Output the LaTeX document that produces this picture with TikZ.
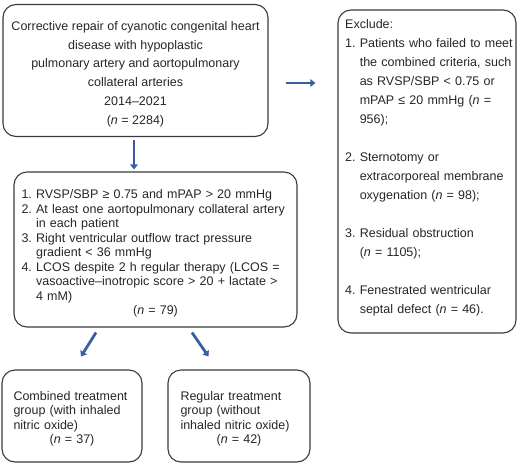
\documentclass[tikz,border=0pt]{standalone}
\usepackage{fontspec}
\setmainfont{Liberation Sans}
\usetikzlibrary{arrows.meta,calc}
\definecolor{boxline}{HTML}{3A3A3A}
\definecolor{txt}{HTML}{262626}
\definecolor{arrblue}{HTML}{3A5E9E}
\tikzset{
  flowbox/.style={draw=boxline, line width=1.1pt, rounded corners=13pt, inner sep=0pt},
  arr/.style={draw=arrblue, line width=2.8pt, -{Triangle[length=5pt,width=7.5pt]}},
  bodytext/.style={text=txt, inner sep=0pt}
}
\newcommand{\hind}{\phantom{1. }}
\frenchspacing
\begin{document}
\begin{tikzpicture}[x=1pt,y=-1pt]
\useasboundingbox (0,0) rectangle (518,463);

% boxes
\node[flowbox, minimum width=265pt, minimum height=132pt] (box1) at (135.5,70.5) {};
\node[flowbox, minimum width=283pt, minimum height=155pt] (box2) at (155.5,249.5) {};
\node[flowbox, minimum width=178pt, minimum height=323pt] (excl) at (427,171.5) {};
\node[flowbox, minimum width=140pt, minimum height=92pt] (comb) at (72,416) {};
\node[flowbox, minimum width=142pt, minimum height=92pt] (reg) at (239,416) {};

% texts
\node[bodytext, align=center, font=\frenchspacing\fontsize{12.5}{18.8}\selectfont]
  (box1txt) at ($(box1.center)+(0,3.5)$)
  {Corrective repair of cyanotic congenital heart\\
   disease with hypoplastic\\
   pulmonary artery and aortopulmonary\\
   collateral arteries\\
   2014–2021\\
   (\textit{n} = 2284)};

\node[bodytext, text width=268pt, align=left, font=\frenchspacing\fontsize{12.5}{14.5}\selectfont]
  (box2txt) at ($(box2.center)+(0,4)$)
  {1. RVSP/SBP ≥ 0.75 and mPAP > 20 mmHg\\
   2. At least one aortopulmonary collateral artery\\
   \hind in each patient\\
   3. Right ventricular outflow tract pressure\\
   \hind gradient < 36 mmHg\\
   4. LCOS despite 2 h regular therapy (LCOS =\\
   \hind vasoactive–inotropic score > 20 + lactate >\\
   \hind 4 mM)\\
   \makebox[\linewidth][c]{(\textit{n} = 79)}};

\node[bodytext, anchor=north west, text width=175pt, align=left,
      font=\frenchspacing\fontsize{12.5}{19}\selectfont] (excltxt) at (345,19.5)
  {Exclude:\\
   1. Patients who failed to meet\\
   \hind the combined criteria, such\\
   \hind as RVSP/SBP < 0.75 or\\
   \hind mPAP ≤ 20 mmHg (\textit{n} =\\
   \hind 956);\\[19pt]
   2. Sternotomy or\\
   \hind extracorporeal membrane\\
   \hind oxygenation (\textit{n} = 98);\\[19pt]
   3. Residual obstruction\\
   \hind (\textit{n} = 1105);\\[19pt]
   4. Fenestrated wentricular\\
   \hind septal defect (\textit{n} = 46).};

\node[bodytext, text width=117pt, align=left, font=\frenchspacing\fontsize{12.5}{14.5}\selectfont]
  (combtxt) at ($(comb.center)+(0,3)$)
  {\makebox[\linewidth][s]{Combined treatment}\\
   \makebox[\linewidth][s]{group (with inhaled}\\
   nitric oxide)\\
   \makebox[\linewidth][c]{(\textit{n} = 37)}};

\node[bodytext, text width=117pt, align=left, font=\frenchspacing\fontsize{12.5}{14.5}\selectfont]
  (regtxt) at ($(reg.center)+(0,3)$)
  {\makebox[\linewidth][s]{Regular treatment}\\
   group (without\\
   inhaled nitric oxide)\\
   \makebox[\linewidth][c]{(\textit{n} = 42)}};

% connectors
\draw[arr] ($(box1.south)+(-1.5,3)$) -- ($(box1.south |- box2.north)+(-1.5,-2)$);
\draw[arr] ($(box1.east)+(17,12.5)$) -- ($(excl.west |- box1.east)+(-22,12.5)$);
\draw[arr] ($(box2.south)+(-59.5,5)$) -- ($(comb.north)+(9,-13)$);
\draw[arr] ($(box2.south)+(36.5,5)$) -- ($(reg.north)+(-30.5,-13)$);
\end{tikzpicture}
\end{document}
